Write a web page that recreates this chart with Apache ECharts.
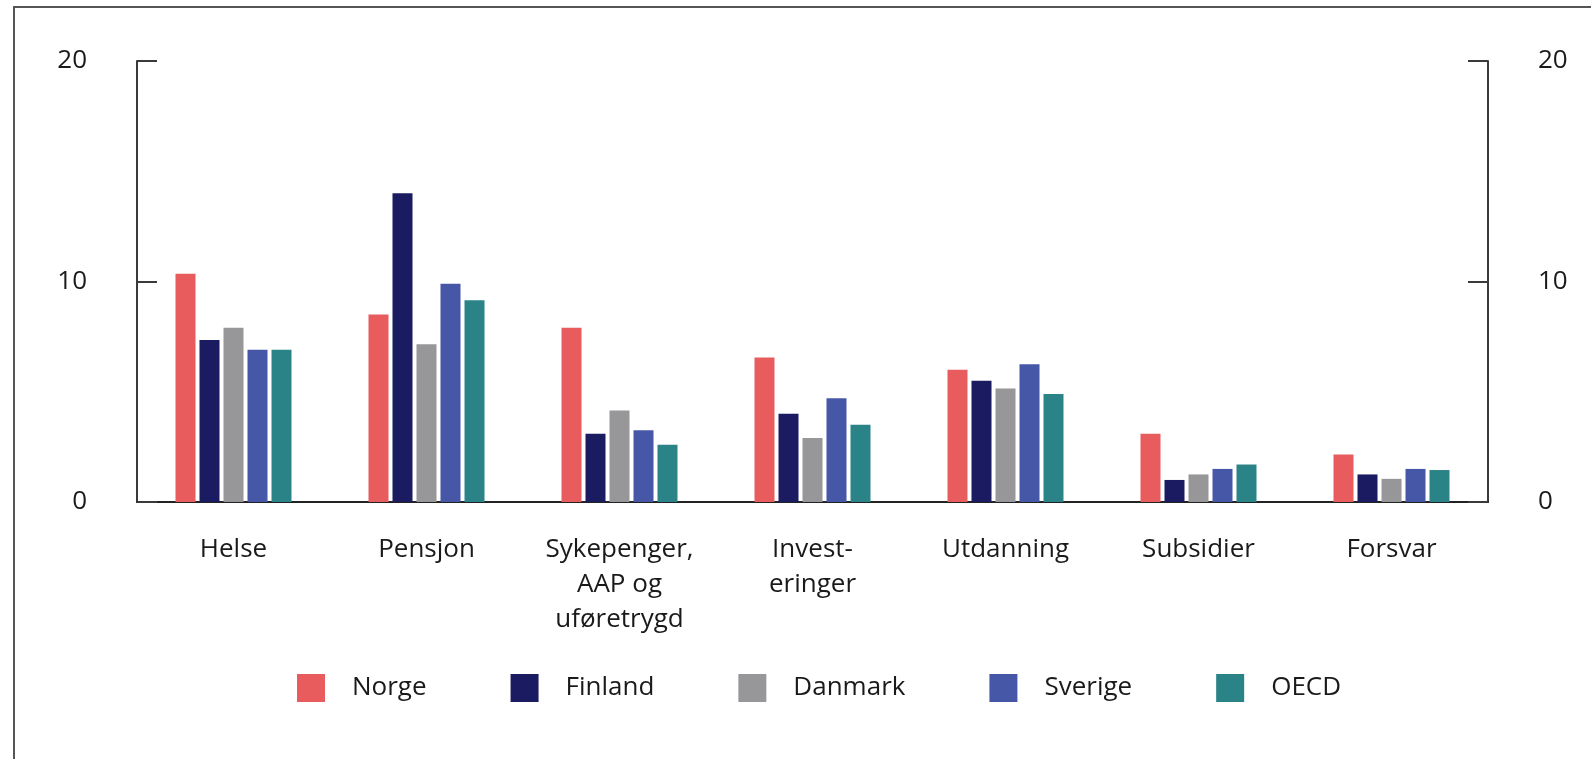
<!DOCTYPE html>
<html lang="nb">
<head>
  <meta charset="UTF-8">
  <title>Utgifter etter område</title>
  <style>
    html, body { margin: 0; padding: 0; background: #fff; }
  </style>
</head>
<body>
  <div id="main" style="width:1591px;height:759px;"></div>
  <script src="https://cdn.jsdelivr.net/npm/echarts@6/dist/echarts.min.js"></script>
  <script>
  // kategorier og verdier lest av figuren
  var categories = ['Helse', 'Pensjon', 'Sykepenger,\nAAP og\nuføretrygd', 'Invest-\neringer', 'Utdanning', 'Subsidier', 'Forsvar']
  var norge   = [10.35, 8.5, 7.9, 6.55, 6.0, 3.1, 2.15]
  var finland = [7.35, 14.0, 3.1, 4.0, 5.5, 1.0, 1.25]
  var danmark = [7.9, 7.15, 4.15, 2.9, 5.15, 1.25, 1.05]
  var sverige = [6.9, 9.9, 3.25, 4.7, 6.25, 1.5, 1.5]
  var oecd    = [6.9, 9.15, 2.6, 3.5, 4.9, 1.7, 1.45]
  var yTicks = [0, 10, 20]

  var font = '"Open Sans", "Noto Sans", sans-serif'
  var colors = ['#e85c5e', '#1b1b62', '#979698', '#4657a8', '#2a8387']

  var myChart = echarts.init(document.getElementById('main'))

  var yAxisBase = function (pos) {
    return {
      type: 'value',
      position: pos,
      min: yTicks[0],
      max: yTicks[yTicks.length - 1],
      interval: 10,
      axisLine: { show: true, lineStyle: { color: '#3a3a3a', width: 2 } },
      axisTick: { show: true, inside: true, length: 20, lineStyle: { color: '#3a3a3a', width: 2 } },
      splitLine: { show: false },
      axisLabel: {
        margin: 50,
        color: '#1a1a1a',
        fontFamily: font,
        fontSize: 26
      }
    }
  }

  var series = _series([
    ['Norge', norge],
    ['Finland', finland],
    ['Danmark', danmark],
    ['Sverige', sverige],
    ['OECD', oecd]
  ])

  function _series(list) {
    return list.map(function (item) {
      return {
        name: item[0],
        type: 'bar',
        data: item[1],
        barWidth: 20,
        barGap: '20%'
      }
    })
  }

  var option = {
    animation: false,
    color: colors,
    graphic: [{
      type: 'rect',
      shape: { x: 14, y: 7, width: 1600, height: 800 },
      style: { fill: 'none', stroke: '#555', lineWidth: 2 },
      silent: true
    }],
    grid: { left: 137, right: 103, top: 61, bottom: 257 },
    legend: {
      data: series.map(function (s) { return s.name }),
      left: 292,
      top: 669,
      icon: 'rect',
      itemWidth: 28,
      itemHeight: 28,
      itemGap: 84,
      textStyle: {
        color: '#1a1a1a',
        fontFamily: font,
        fontSize: 26,
        padding: [0, 0, 0, 22]
      }
    },
    xAxis: {
      type: 'category',
      data: categories,
      axisLine: { show: true, lineStyle: { color: '#222', width: 2 } },
      axisTick: { show: false },
      axisLabel: {
        margin: 30,
        color: '#1a1a1a',
        fontFamily: font,
        fontSize: 26,
        lineHeight: 35,
        interval: 0
      }
    },
    yAxis: [yAxisBase('left'), yAxisBase('right')],
    series: series
  }
  myChart.setOption(option)
  </script>
</body>
</html>
